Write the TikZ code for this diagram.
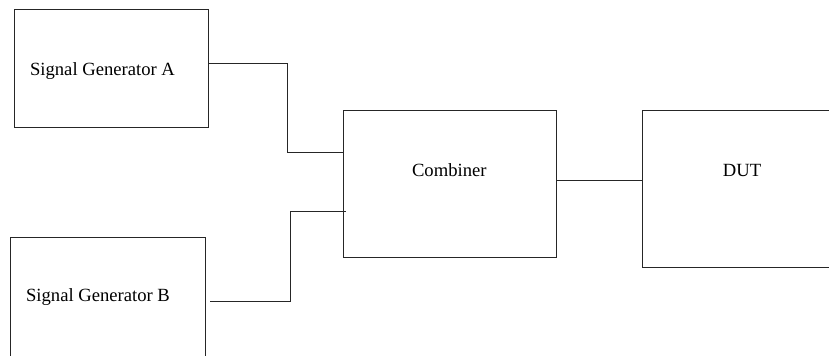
\documentclass[tikz,border=0pt]{standalone}
\usepackage{fontspec}
\setmainfont{Liberation Serif}
\begin{document}
\begin{tikzpicture}[x=0.03cm,y=-0.03cm,
  blk/.style={draw=black!85,line width=0.7pt,inner sep=0pt},
  txt/.style={anchor=base,font=\fontsize{15.9}{19}\selectfont},
  wire/.style={draw=black!85,line width=0.7pt}]
\clip (0,0) rectangle (829,355);
\node[blk,minimum width=5.8cm,minimum height=3.55cm] (sgA) at (111.35,68.6) {};
\node[blk,minimum width=5.85cm,minimum height=4.12cm] (sgB) at (107.5,306.35) {};
\node[blk,minimum width=6.4cm,minimum height=4.42cm] (comb) at (450,183.65) {};
\node[blk,minimum width=6.23cm,minimum height=4.71cm] (dut) at (746.15,189.2) {};
\node[txt] (labA) at (102.5,75) {Signal Generator A};
\node[txt] (labB) at (98,301.7) {Signal Generator B};
\node[txt] (labC) at (449.3,176) {Combiner};
\node[txt] (labD) at (742,176) {DUT};
\draw[wire] (sgA.east |- 0,63.3) -- (287.3,63.3) -- (287.3,152.3) -- (comb.west |- 0,152.3);
\draw[wire,shorten <=4pt,shorten >=-2.5pt] (sgB.east |- 0,301.7) -- (290,301.7) -- (290,211) -- (comb.west |- 0,211);
\draw[wire] (comb.east |- 0,180) -- (dut.west |- 0,180);
\end{tikzpicture}
\end{document}
